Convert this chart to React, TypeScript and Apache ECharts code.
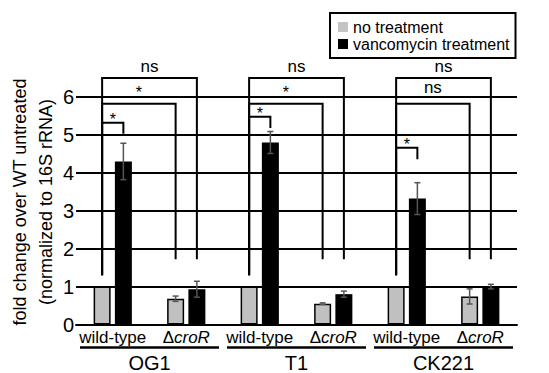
import React, { useEffect, useRef } from "react";
import * as echarts from "echarts";

const FONT = "'Liberation Sans', Arial, Helvetica, sans-serif";

const categories = ["wild-type", "ΔcroR", "wild-type", "ΔcroR", "wild-type", "ΔcroR"];
const strains = ["OG1", "T1", "CK221"];
const strainSpans = [
  [0, 1],
  [2, 3],
  [4, 5],
];
const seriesNames = ["no treatment", "vancomycin treatment"];
const noTreatment = [1.0, 0.68, 1.0, 0.55, 1.0, 0.74];
const noTreatmentErr = [0, 0.07, 0, 0.02, 0, 0.2];
const vancomycin = [4.3, 0.93, 4.8, 0.8, 3.32, 1.0];
const vancomycinErr = [0.48, 0.21, 0.29, 0.08, 0.42, 0.06];
const yMin = 0;
const yMax = 6;
const yInterval = 1;

// significance brackets: [fromCategory, fromSeries, toCategory, toSeries, top, rightLegEnd, level, label]
const brackets: (number | string)[][] = [
  [0, 0, 0, 1, 5.32, 5.03, 0, "*"],
  [0, 0, 1, 0, 5.82, 1.72, 1, "*"],
  [0, 0, 1, 1, 6.5, 1.72, 2, "ns"],
  [2, 0, 2, 1, 5.48, 5.18, 0, "*"],
  [2, 0, 3, 0, 5.82, 1.72, 1, "*"],
  [2, 0, 3, 1, 6.5, 1.72, 2, "ns"],
  [4, 0, 4, 1, 4.66, 4.36, 0, "*"],
  [4, 0, 5, 0, 5.82, 1.72, 1, "ns"],
  [4, 0, 5, 1, 6.5, 1.72, 2, "ns"],
];
const leftLegEnd = 1.3;

const BAR_W = 17;
const BAR_GAP = 0.25;
const sideOffset = (s: number) => ((s === 0 ? -1 : 1) * BAR_W * (1 + BAR_GAP)) / 2;

export default function App() {
  const ref = useRef<HTMLDivElement>(null);
  useEffect(() => {
    document.body.style.margin = "0";
    const chart = echarts.init(ref.current!, null, { renderer: "svg" });

    const errData: number[][] = [];
    noTreatment.forEach((v, i) => errData.push([i, 0, v, noTreatmentErr[i]]));
    vancomycin.forEach((v, i) => errData.push([i, 1, v, vancomycinErr[i]]));

    const bracketData = brackets.map((b) => [b[0], b[4], b[1], b[2], b[3], b[5], b[6]]);
    const labelOffsets = [7, 15, 10];

    const option: any = {
      animation: false,
      textStyle: { fontFamily: FONT },
      grid: { left: 76, right: 32, top: 97, bottom: 48.5 },
      legend: {
        data: [
          { name: seriesNames[0], itemStyle: { color: "#c4c4c4", borderWidth: 0 } },
          { name: seriesNames[1], itemStyle: { color: "#000", borderWidth: 0 } },
        ],
        orient: "vertical",
        left: 330,
        top: 13,
        itemWidth: 10,
        itemHeight: 10,
        itemGap: 1,
        icon: "rect",
        padding: [6, 6, 6, 8],
        borderColor: "#000",
        borderWidth: 2,
        textStyle: { fontSize: 16, color: "#000", fontFamily: FONT },
      },
      xAxis: {
        type: "category",
        data: categories,
        axisLine: { lineStyle: { color: "#000", width: 2 } },
        axisTick: { show: false },
        axisLabel: {
          interval: 0,
          margin: 4,
          color: "#000",
          fontSize: 17,
          fontFamily: FONT,
          formatter: (v: string) => (v.startsWith("Δ") ? "Δ{i|" + v.slice(1) + "}" : v),
          rich: { i: { fontStyle: "italic", fontSize: 17, color: "#000", fontFamily: FONT } },
        },
      },
      yAxis: {
        type: "value",
        min: yMin,
        max: yMax,
        interval: yInterval,
        axisLine: { show: false },
        axisTick: { show: false },
        axisLabel: { color: "#000", fontSize: 20, margin: 2, fontFamily: FONT },
        splitLine: { lineStyle: { color: "#000", width: 2 } },
      },
      graphic: [
        {
          type: "text",
          x: 33,
          y: 202,
          rotation: Math.PI / 2,
          style: {
            text: "fold change over WT untreated\n(normalized to 16S rRNA)",
            fontSize: 18,
            lineHeight: 26,
            fontFamily: FONT,
            fill: "#000",
            align: "center",
            verticalAlign: "middle",
            textAlign: "center",
            textVerticalAlign: "middle",
          },
        },
      ],
      series: [
        {
          type: "bar",
          name: seriesNames[0],
          data: noTreatment,
          barWidth: BAR_W,
          barGap: BAR_GAP * 100 + "%",
          itemStyle: { color: "#c0c0c0", borderColor: "#000", borderWidth: 1.5 },
          z: 2,
        },
        {
          type: "bar",
          name: seriesNames[1],
          data: vancomycin,
          barWidth: BAR_W,
          barGap: BAR_GAP * 100 + "%",
          itemStyle: { color: "#000" },
          z: 2,
        },
        {
          type: "custom",
          name: "err",
          data: errData,
          encode: { x: 0, y: 2 },
          z: 5,
          renderItem: (params: any, api: any) => {
            const err = api.value(3);
            if (!err) return { type: "group", children: [] };
            const c = api.value(0);
            const s = api.value(1);
            const m = api.value(2);
            const hi = api.coord([c, m + err]);
            const lo = api.coord([c, m - err]);
            const x = hi[0] + sideOffset(s);
            const st = { stroke: "#555", lineWidth: 1.5 };
            return {
              type: "group",
              children: [
                { type: "line", shape: { x1: x, y1: hi[1], x2: x, y2: lo[1] }, style: st },
                { type: "line", shape: { x1: x - 3, y1: hi[1], x2: x + 3, y2: hi[1] }, style: st },
                { type: "line", shape: { x1: x - 3, y1: lo[1], x2: x + 3, y2: lo[1] }, style: st },
              ],
            };
          },
        },
        {
          type: "custom",
          name: "brackets",
          data: bracketData,
          encode: { x: 0, y: 1 },
          z: 6,
          renderItem: (params: any, api: any) => {
            const b = brackets[params.dataIndex];
            const c1 = b[0] as number;
            const s1 = b[1] as number;
            const c2 = b[2] as number;
            const s2 = b[3] as number;
            const top = b[4] as number;
            const rEnd = b[5] as number;
            const level = b[6] as number;
            const label = b[7] as string;
            const pTop1 = api.coord([c1, top]);
            const pTop2 = api.coord([c2, top]);
            const x1 = pTop1[0] + sideOffset(s1);
            const x2 = pTop2[0] + sideOffset(s2);
            const yT = pTop1[1];
            const yL = api.coord([c1, leftLegEnd])[1];
            const yR = api.coord([c2, rEnd])[1];
            const glyphCenter = yT - labelOffsets[level];
            const ty = label === "*" ? glyphCenter + 3.7 : glyphCenter - 1.5;
            return {
              type: "group",
              children: [
                {
                  type: "polyline",
                  shape: { points: [[x1, yL], [x1, yT], [x2, yT], [x2, yR]] },
                  style: { stroke: "#000", lineWidth: 2, fill: "none" },
                },
                {
                  type: "text",
                  x: (x1 + x2) / 2,
                  y: ty,
                  style: {
                    text: label,
                    fontSize: label === "*" ? 16 : 17,
                    fontFamily: FONT,
                    fill: "#000",
                    align: "center",
                    verticalAlign: "middle",
                    textAlign: "center",
                    textVerticalAlign: "middle",
                  },
                },
              ],
            };
          },
        },
        {
          type: "custom",
          name: "strains",
          data: strainSpans.map((s) => [s[0], s[1], 0]),
          encode: { x: [0, 1], y: 2 },
          z: 6,
          renderItem: (params: any, api: any) => {
            const a = api.coord([api.value(0), 0]);
            const b = api.coord([api.value(1), 0]);
            const band = api.size([1, 0])[0];
            const x1 = a[0] - band / 2 + 4;
            const x2 = b[0] + band / 2 - 4;
            const y = a[1] + 23;
            return {
              type: "group",
              children: [
                {
                  type: "line",
                  shape: { x1, y1: y, x2, y2: y },
                  style: { stroke: "#000", lineWidth: 2.5 },
                },
                {
                  type: "text",
                  x: (x1 + x2) / 2,
                  y: y + 15.5,
                  style: {
                    text: strains[params.dataIndex],
                    fontSize: 20,
                    fontFamily: FONT,
                    fill: "#000",
                    align: "center",
                    verticalAlign: "middle",
                    textAlign: "center",
                    textVerticalAlign: "middle",
                  },
                },
              ],
            };
          },
        },
      ],
    };
    chart.setOption(option);
    return () => chart.dispose();
  }, []);
  return <div ref={ref} style={{ width: 549, height: 373 }} />;
}
